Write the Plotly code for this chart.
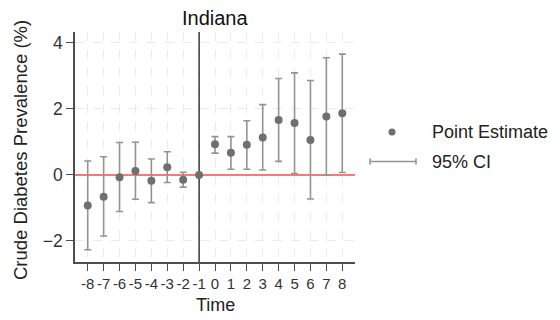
import plotly.graph_objects as go

# Event-time estimates for Indiana
time = [-8, -7, -6, -5, -4, -3, -2, -1, 0, 1, 2, 3, 4, 5, 6, 7, 8]
estimate = [-0.93, -0.66, -0.07, 0.12, -0.18, 0.23, -0.15, 0.0,
            0.93, 0.67, 0.91, 1.13, 1.66, 1.57, 1.06, 1.77, 1.87]
ci_low = [-2.27, -1.85, -1.11, -0.74, -0.84, -0.23, -0.37, 0.0,
          0.66, 0.17, 0.17, 0.15, 0.41, 0.04, -0.73, -0.01, 0.07]
ci_high = [0.42, 0.55, 0.98, 0.99, 0.48, 0.70, 0.08, 0.0,
           1.16, 1.16, 1.64, 2.13, 2.92, 3.09, 2.86, 3.55, 3.66]
tick_labels = [str(t) for t in time]
y_ticks = [-2, 0, 2, 4]
onset = -1

FONT = "Liberation Sans, Arial, sans-serif"
POINT_COLOR = "#6f6f6f"
BAR_COLOR = "#939393"
TEXT_COLOR = "#222222"

W, H = 560, 320
ML, MT, MB = 75, 32, 58
PANEL_W = 280
INNER_W = W - ML
X_RANGE = [-8.8, 8.8]
Y_RANGE = [-2.64, 4.33]

err_plus = [h - e for h, e in zip(ci_high, estimate)]
err_minus = [e - l for e, l in zip(estimate, ci_low)]
has_ci = [h != l for h, l in zip(ci_high, ci_low)]

fig = go.Figure()

# treatment onset line, drawn as a trace so it sits above the grid
fig.add_trace(go.Scatter(
    x=[onset, onset], y=Y_RANGE, mode="lines",
    line=dict(color="#1a1a1a", width=1.3), showlegend=False, hoverinfo="skip",
))

fig.add_trace(go.Scatter(
    x=[t for t, c in zip(time, has_ci) if c],
    y=[e for e, c in zip(estimate, has_ci) if c],
    mode="markers",
    marker=dict(size=0.1, color="rgba(0,0,0,0)"),
    error_y=dict(type="data", symmetric=False,
                 array=[p for p, c in zip(err_plus, has_ci) if c],
                 arrayminus=[m for m, c in zip(err_minus, has_ci) if c],
                 color=BAR_COLOR, thickness=1.6, width=3.5),
    showlegend=False, hoverinfo="skip",
))
fig.add_trace(go.Scatter(
    x=time, y=estimate, mode="markers",
    marker=dict(size=8, color=POINT_COLOR),
    showlegend=False,
))

# key panel on its own pixel-scaled axes to the right of the plot
fig.add_trace(go.Scatter(
    x=[392], y=[130], mode="markers", xaxis="x2", yaxis="y2",
    marker=dict(size=7, color=POINT_COLOR), showlegend=False, hoverinfo="skip",
))
fig.add_trace(go.Scatter(
    x=[393], y=[100.5], mode="markers", xaxis="x2", yaxis="y2",
    marker=dict(size=0.1, color="rgba(0,0,0,0)"),
    error_x=dict(type="constant", value=23, color=BAR_COLOR, thickness=1.6, width=3),
    showlegend=False, hoverinfo="skip",
))

annotations = [
    dict(text="Indiana", xref="x domain", yref="paper", x=0.5, y=1, yanchor="middle",
         yshift=14, showarrow=False, font=dict(size=20, color="#111111", family=FONT)),
    dict(text="Time", xref="x domain", yref="paper", x=0.5, y=0, yanchor="middle",
         yshift=-43, showarrow=False, font=dict(size=18, color=TEXT_COLOR, family=FONT)),
    dict(text="Crude Diabetes Prevalence (%)", xref="x domain", yref="paper", x=0, y=0.5,
         xanchor="center", xshift=-55, yshift=-3, textangle=-90, showarrow=False,
         font=dict(size=18.5, color=TEXT_COLOR, family=FONT)),
    dict(text="Point Estimate", xref="x2", yref="y2", x=430, y=130,
         xanchor="left", yanchor="middle", showarrow=False,
         font=dict(size=18, color=TEXT_COLOR, family=FONT)),
    dict(text="95% CI", xref="x2", yref="y2", x=430, y=100.5,
         xanchor="left", yanchor="middle", showarrow=False,
         font=dict(size=18, color=TEXT_COLOR, family=FONT)),
]

fig.update_layout(
    width=W, height=H,
    margin=dict(l=ML, r=0, t=MT, b=MB),
    paper_bgcolor="white", plot_bgcolor="white",
    annotations=annotations,
    font=dict(family=FONT),
    xaxis=dict(
        domain=[0, PANEL_W / INNER_W],
        range=X_RANGE, tickvals=time, ticktext=tick_labels,
        tickfont=dict(size=15, color="#333333"),
        showgrid=True, gridcolor="#ebebeb", gridwidth=1, griddash="dash",
        zeroline=False, showline=True, linecolor="#4d4d4d", linewidth=1.6,
        ticks="outside", ticklen=7, tickcolor="#4d4d4d", tickwidth=1.4,
    ),
    yaxis=dict(
        range=Y_RANGE, tickvals=y_ticks,
        tickfont=dict(size=17.5, color="#333333"),
        showgrid=True, gridcolor="#ebebeb", gridwidth=1, griddash="dash",
        # red reference line at zero
        zeroline=True, zerolinecolor="#f57a7a", zerolinewidth=2,
        showline=True, linecolor="#4d4d4d", linewidth=1.6,
        ticks="outside", ticklen=7, tickcolor="#4d4d4d", tickwidth=1.4,
    ),
    xaxis2=dict(domain=[PANEL_W / INNER_W, 1], range=[ML + PANEL_W, W], anchor="y2",
                visible=False, fixedrange=True),
    yaxis2=dict(domain=[0, 1], range=[0, H - MT - MB], anchor="x2",
                visible=False, fixedrange=True),
)

fig.write_html("out.html")
